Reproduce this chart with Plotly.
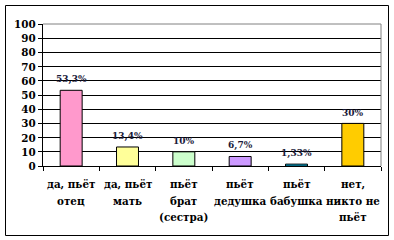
import plotly.graph_objects as go

categories = ["да, пьёт\nотец", "да, пьёт\nмать", "пьёт\nбрат\n(сестра)",
              "пьёт\nдедушка", "пьёт\nбабушка", "нет,\nникто не\nпьёт"]
values = [53.3, 13.4, 10, 6.7, 1.33, 30]
value_labels = ["53,3%", "13,4%", "10%", "6,7%", "1,33%", "30%"]
colors = ["#FF99CC", "#FFFF99", "#CCFFCC", "#CC99FF", "#00CCFF", "#FFCC00"]
y_ticks = [0, 10, 20, 30, 40, 50, 60, 70, 80, 90, 100]

FONT = "DejaVu Serif Condensed, DejaVu Serif"
xs = list(range(len(categories)))

fig = go.Figure()
fig.add_trace(go.Bar(
    x=xs, y=values, width=0.39,
    marker=dict(color=colors, line=dict(color="black", width=1)),
    hoverinfo="skip",
))

for x, v, t in zip(xs, values, value_labels):
    fig.add_annotation(x=x, y=v, text=t, showarrow=False,
                       yanchor="middle", yshift=11,
                       font=dict(family=FONT, size=10, color="#1a1a3a", weight="bold"))

# category labels, one annotation per text line for Word-like line spacing
for x, c in zip(xs, categories):
    for i, line in enumerate(c.split("\n")):
        fig.add_annotation(x=x, xref="x", y=0, yref="paper", text=line,
                           showarrow=False, yanchor="middle",
                           yshift=-18 - 16.5 * i,
                           font=dict(family=FONT, size=11.5, color="black", weight="bold"))

L, R, T, B = 43, 13, 24, 74
W, H = 394, 240
pw, ph = W - L - R, H - T - B

def px(x):
    return (x - L) / pw

def py(y):
    return (H - B - y) / ph

fig.update_layout(
    width=W, height=H,
    margin=dict(l=L, r=R, t=T, b=B, autoexpand=False),
    paper_bgcolor="white", plot_bgcolor="white",
    showlegend=False,
    font=dict(family=FONT, color="black"),
    xaxis=dict(
        range=[-0.5, 5.5], tickvals=xs, showticklabels=False,
        ticks="", showgrid=False, zeroline=False, automargin=False,
        showline=True, linecolor="black", linewidth=1,
        minor=dict(tick0=-0.5, dtick=1, ticks="outside", ticklen=4,
                   tickcolor="black", showgrid=False),
        fixedrange=True,
    ),
    yaxis=dict(
        range=[0, 100], tickvals=y_ticks, automargin=False,
        tickfont=dict(family=FONT, size=11.5, color="black", weight="bold"),
        ticks="outside", ticklen=4, tickcolor="black",
        showgrid=True, gridcolor="black", gridwidth=1,
        zeroline=False, showline=True, linecolor="black", linewidth=1,
        fixedrange=True,
    ),
    shapes=[
        dict(type="line", xref="paper", yref="paper", x0=0, x1=1, y0=1, y1=1,
             line=dict(color="#808080", width=1)),
        dict(type="line", xref="paper", yref="paper", x0=1, x1=1, y0=0, y1=1,
             line=dict(color="#808080", width=1)),
        dict(type="rect", xref="paper", yref="paper",
             x0=px(5.5), x1=px(388.5), y0=py(235.5), y1=py(5.5),
             line=dict(color="black", width=1)),
    ],
)

fig.write_html("out.html")
